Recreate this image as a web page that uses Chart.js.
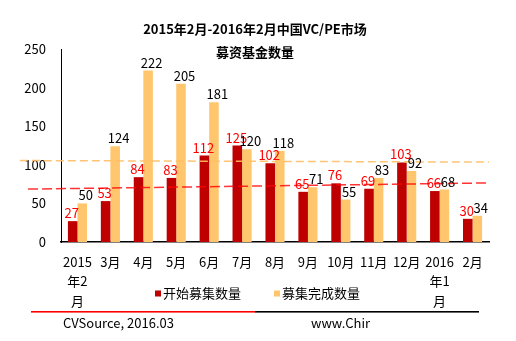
<!DOCTYPE html>
<html><head><meta charset="utf-8">
<script src="https://cdn.jsdelivr.net/npm/chart.js@4"></script>
<style>html,body{margin:0;padding:0;background:#fff}#wrap{width:516px;height:341px;position:relative}</style>
</head><body><div id="wrap"><canvas id="c" width="516" height="341"></canvas></div>
<script>
const categories = [['2015','年2','月'],'3月','4月','5月','6月','7月','8月','9月','10月','11月','12月',['2016','年1','月'],'2月'];
const startedFunds = [27,53,84,83,112,125,102,65,76,69,103,66,30];
const closedFunds = [50,124,222,205,181,120,118,71,55,83,92,68,34];
const seriesNames = ['开始募集数量','募集完成数量'];
const titleLines = ['2015年2月-2016年2月中国VC/PE市场','募资基金数量'];
// trend lines: category-index positions (fractional) and values at their ends
const startedTrendX = [-1.5, 12.44];
const startedTrendY = [68.5, 76.5];
const closedTrendX = [-1.75, 12.5];
const closedTrendY = [105.5, 103.5];
const yMin = 0, yMax = 250, yStep = 50;
const sourceText = 'CVSource, 2016.03';
const siteText = 'www.Chir';

const FONT = '"Liberation Sans Narrow", "Arial Narrow", "Noto Sans CJK SC", sans-serif';
const RED = '#BE0000', ORANGE = '#FFC66E';

function drawTrend(chart, xs, ys, color, dash) {
  const ctx = chart.ctx, sx = chart.scales.x, sy = chart.scales.y;
  ctx.save();
  ctx.strokeStyle = color;
  ctx.lineWidth = 1.5;
  ctx.setLineDash(dash);
  ctx.beginPath();
  ctx.moveTo(sx.getPixelForValue(xs[0]), sy.getPixelForValue(ys[0]));
  ctx.lineTo(sx.getPixelForValue(xs[1]), sy.getPixelForValue(ys[1]));
  ctx.stroke();
  ctx.restore();
}

const extras = {
  id: 'extras',
  afterDatasetsDraw(chart) {
    drawTrend(chart, closedTrendX, closedTrendY, 'rgba(255,190,100,0.9)', [8, 4]);
    drawTrend(chart, startedTrendX, startedTrendY, 'rgba(255,0,0,0.8)', [10, 4]);
    const ctx = chart.ctx;
    ctx.save();
    ctx.font = '13px ' + FONT;
    ctx.textAlign = 'center';
    ctx.textBaseline = 'alphabetic';
    [[0, '#FF0000', -1], [1, '#000000', 3.5]].forEach(([di, col, off]) => {
      const meta = chart.getDatasetMeta(di);
      const vals = chart.data.datasets[di].data;
      ctx.fillStyle = col;
      meta.data.forEach((bar, j) => {
        ctx.fillText(String(vals[j]), bar.x + off, bar.y - 3);
      });
    });
    ctx.restore();
  },
  afterDraw(chart) {
    const ctx = chart.ctx;
    ctx.save();
    ctx.fillStyle = '#000';
    ctx.textAlign = 'center';
    ctx.textBaseline = 'middle';
    ctx.font = 'bold 13px ' + FONT;
    ctx.fillText(titleLines[0], 255, 29);
    ctx.fillText(titleLines[1], 255, 52);
    ctx.font = '13px ' + FONT;
    ctx.textAlign = 'left';
    [[0, 155], [1, 274]].forEach(([di, x]) => {
      const ds = chart.data.datasets[di];
      ctx.fillStyle = ds.backgroundColor;
      ctx.fillRect(x, 290.5, 6, 6);
      ctx.fillStyle = '#000';
      ctx.fillText(ds.label, x + 8, 293.5);
    });
    ctx.fillStyle = '#FF0000';
    ctx.fillRect(31, 311, 224, 1.6);
    ctx.fillStyle = '#000';
    ctx.fillRect(255, 311, 224, 1.6);
    ctx.fillText(sourceText, 63, 323);
    ctx.fillText(siteText, 311, 323);
    ctx.restore();
  }
};

new Chart(document.getElementById('c'), {
  type: 'bar',
  data: {
    labels: categories,
    datasets: [
      { label: seriesNames[0], data: startedFunds, backgroundColor: RED,
        categoryPercentage: 0.58, barPercentage: 1.0 },
      { label: seriesNames[1], data: closedFunds, backgroundColor: ORANGE,
        categoryPercentage: 0.58, barPercentage: 1.0 }
    ]
  },
  options: {
    responsive: false,
    devicePixelRatio: 1,
    animation: false,
    layout: { padding: { top: 49, right: 27, left: 0, bottom: 0 } },
    plugins: { legend: { display: false }, title: { display: false }, tooltip: { enabled: false } },
    scales: {
      x: {
        type: 'category', offset: true,
        grid: { display: false, drawTicks: false },
        border: { display: true, color: '#000', width: 1.5 },
        ticks: { color: '#000', font: { family: FONT, size: 13, lineHeight: 1.5 }, padding: 10, maxRotation: 0, autoSkip: false },
        afterFit: s => { s.height = 99; }
      },
      y: {
        min: yMin, max: yMax,
        grid: { display: false, drawTicks: false },
        border: { display: true, color: '#000', width: 1 },
        ticks: { stepSize: yStep, color: '#000', font: { family: FONT, size: 13 }, padding: 15 },
        afterFit: s => { s.width = 61; }
      }
    }
  },
  plugins: [extras]
});
</script></body></html>
